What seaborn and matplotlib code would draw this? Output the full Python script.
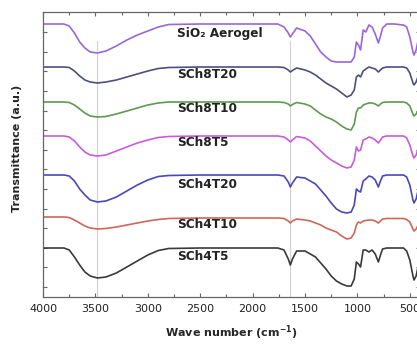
import numpy as np
import pandas as pd
import matplotlib
matplotlib.use("Agg")
import matplotlib.pyplot as plt
import seaborn as sns

# Wavenumber grid (cm^-1)
wavenumber = [4000, 3800, 3750, 3700, 3650, 3600, 3550, 3480, 3400, 3300,
              3200, 3100, 3000, 2900, 2800, 2500, 2000, 1760, 1700, 1660,
              1640, 1620, 1580, 1500, 1450, 1400, 1350, 1300, 1250, 1200,
              1150, 1100, 1060, 1030, 1010, 990, 970, 945, 920, 890,
              860, 830, 800, 780, 760, 720, 650, 560, 530, 500,
              470, 460, 440, 420, 400]

# Stacked transmittance spectra (arbitrary units, already offset)
sio2_aerogel = [273, 273, 271, 264, 255, 249, 245, 244, 246, 251,
                257, 262, 266, 270, 272.5, 273, 273, 273, 270, 264,
                260, 263, 269, 266, 261, 253, 245, 240, 236, 235,
                235, 235, 235, 240, 255, 252, 247, 267, 265, 272,
                270, 263, 254, 261, 269, 273, 273, 272, 270, 260,
                245, 242, 247, 257, 265]
sch8t20 = [230, 230, 229.5, 226, 221, 217, 215, 214, 215, 217,
           220, 223, 226, 228.5, 229.5, 230, 230, 230, 229.5, 227,
           225, 226.5, 229, 227, 225, 222, 218, 214, 211, 208,
           204, 200, 202, 207, 220, 222, 220, 226, 228, 230,
           229, 228, 225, 227, 229, 230, 230, 230, 229, 224,
           214, 212, 215, 221, 225]
sch8t10 = [195, 195, 194.5, 192, 188, 184, 181, 180, 180.5, 183,
           186, 189, 192, 194, 195, 195, 195, 195, 194.5, 193,
           191, 192.5, 194.5, 193, 191, 187, 183, 180, 178, 175,
           171, 168, 167, 173, 185, 189, 189, 192, 193, 194,
           194, 193, 191, 193, 194.5, 195, 195, 195, 194, 191,
           183, 181, 183, 187, 190]
sch8t5 = [161, 161, 160, 156, 150, 145, 142, 141, 142, 146,
          150, 154, 157, 159.5, 160.5, 161, 161, 161, 160, 157,
          155, 157, 160.5, 159, 156, 151, 146, 141, 137, 134,
          131, 129, 130, 137, 150, 146, 147, 157, 158, 160,
          159, 157, 154, 157, 160, 161, 161, 161, 159, 152,
          141, 139, 142, 149, 154]
sch4t20 = [122, 122, 121, 116, 108, 102, 97, 95, 96, 100,
           106, 112, 117, 120.5, 121.5, 122, 122, 122, 121, 115,
           110, 114, 120, 119, 116, 113, 107, 101, 94, 88,
           85, 84, 85, 92, 108, 106, 105, 116, 118, 121,
           120, 117, 110, 116, 121, 122, 122, 122, 120, 112,
           97, 94, 98, 107, 113]
sch4t10 = [80, 80, 79.5, 77, 74, 71, 69, 68, 68.5, 70,
           72, 74, 76, 77.5, 78.5, 79, 79, 79, 78.5, 76,
           74, 76, 78, 77, 76, 74, 72, 69, 67, 65,
           61, 58, 59, 64, 72, 75, 74, 76, 76.5, 77,
           77, 76, 74, 76, 78, 78.5, 78.5, 78.5, 77.5, 75,
           68, 66, 68, 72, 75]
sch4t5 = [49, 49, 47, 40, 32, 25, 21, 19, 20, 24,
          30, 36, 42, 46.5, 48.5, 49, 49, 49, 47, 38,
          32, 38, 46, 46, 43, 40, 34, 28, 21, 16,
          13, 11, 11, 18, 35, 33, 30, 47, 47, 45,
          47, 43, 35, 42, 48, 49, 49, 49, 46, 37,
          21, 17, 21, 31, 39]

series_names = ["SiO₂ Aerogel", "SCh8T20", "SCh8T10", "SCh8T5",
                "SCh4T20", "SCh4T10", "SCh4T5"]
series_values = [sio2_aerogel, sch8t20, sch8t10, sch8t5, sch4t20, sch4t10, sch4t5]
series_colors = ["#9a66dc", "#4d4f7e", "#5e9a52", "#c75cdc",
                 "#4a48b8", "#d0665a", "#3a3a3a"]
label_y = [263, 223, 189, 154, 112, 73, 41]
marker_lines = [3480, 1640]
xtick_labels = [4000, 3500, 3000, 2500, 2000, 1500, 1000, 500]

frames = []
for name, vals in zip(series_names, series_values):
    frames.append(pd.DataFrame({"wavenumber": wavenumber, "T": vals, "sample": name}))
df = pd.concat(frames, ignore_index=True)

sns.set_style("ticks")
plt.rcParams['font.family'] = ['DejaVu Sans']

W, H = 417, 345
fig = plt.figure(figsize=(W / 100, H / 100), dpi=100)
ax = fig.add_axes([43 / W, 1 - 297 / H, 377.3 / W, 285 / H])

for xv in marker_lines:
    ax.axvline(xv, ymin=0, ymax=0.9, color="#cfcfcf", lw=0.8, zorder=0)

sns.lineplot(data=df, x="wavenumber", y="T", hue="sample",
             palette=dict(zip(series_names, series_colors)),
             hue_order=series_names, sort=False, estimator=None,
             lw=1.2, legend=False, ax=ax)

for name, yv in zip(series_names, label_y):
    ax.text(2720, yv, name, ha="left", va="center", fontsize=8.7,
            fontweight="bold", color="#222222")

ax.set_xlim(4000, 400)
ax.set_ylim(0, 285)
ax.set_xticks(xtick_labels)
ax.set_xticklabels([str(v) for v in xtick_labels], fontsize=8)
ax.set_xticks(np.arange(3750, 400, -500), minor=True)
ax.set_yticks(10 + 19.6 * np.arange(14))
ax.set_yticklabels([])
ax.tick_params(axis="both", which="both", direction="in", top=True, right=True,
               color="#666666", length=3, width=0.8)
ax.tick_params(axis="x", which="major", pad=5, labelcolor="#222222")
ax.tick_params(axis="x", which="minor", length=2)
for sp in ax.spines.values():
    sp.set_color("#666666")
    sp.set_linewidth(0.9)

ax.set_xlabel("Wave number (cm$^{\\mathbf{-1}}$)", fontsize=8, fontweight="bold",
              labelpad=7)
ax.set_ylabel("Transmittance (a.u.)", fontsize=8, fontweight="bold")
ax.yaxis.set_label_coords(-0.055, 0.52)

fig.savefig("out.png", dpi=100)
